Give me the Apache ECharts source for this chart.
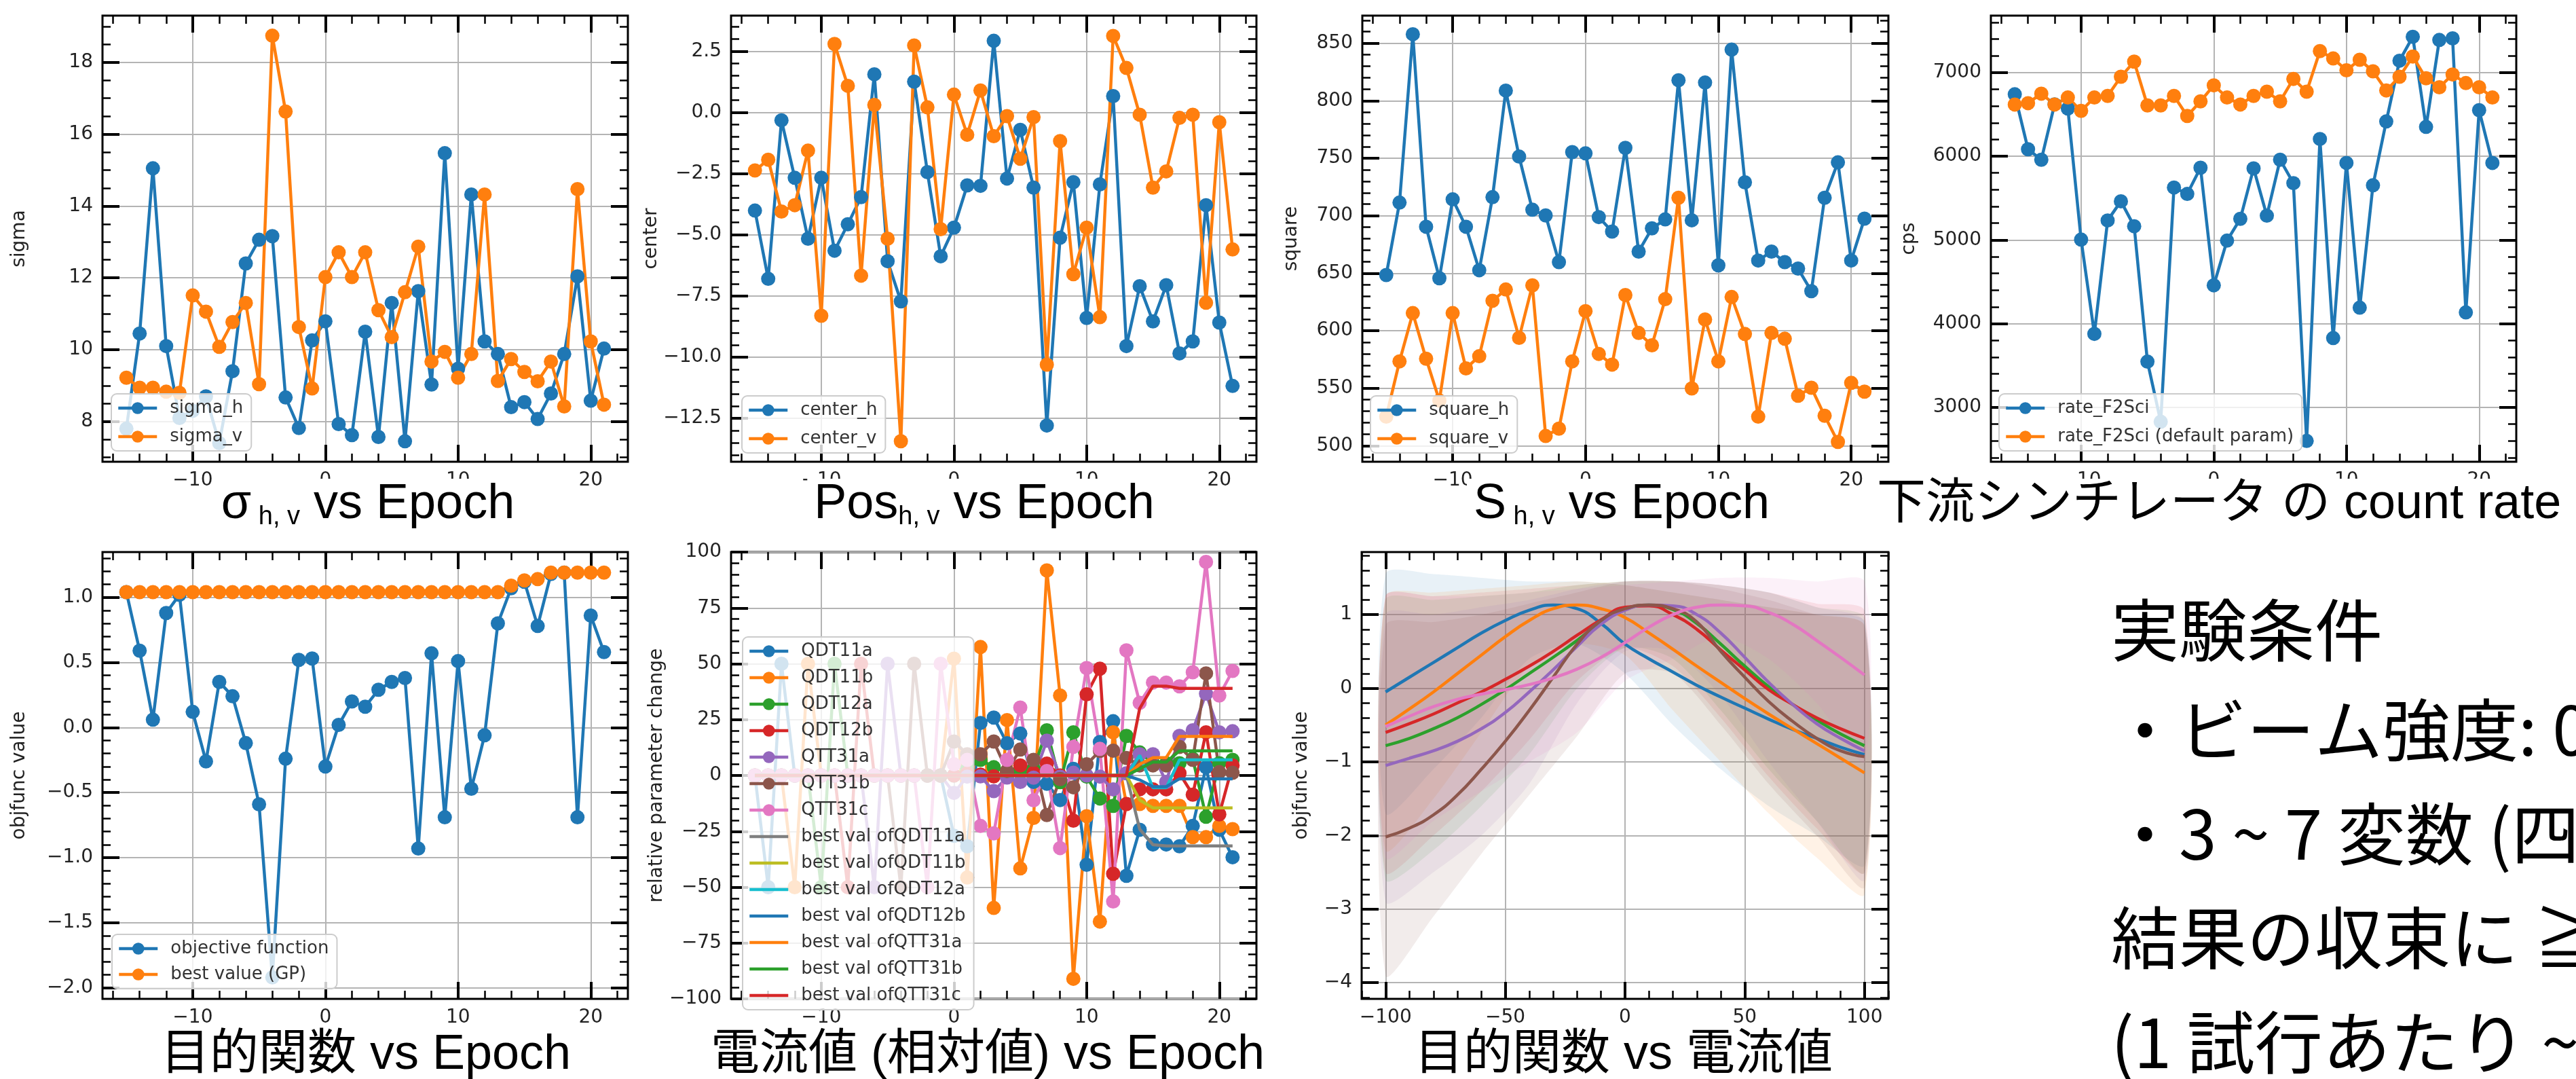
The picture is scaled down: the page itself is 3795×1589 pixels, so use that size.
<!DOCTYPE html>
<html><head><meta charset="utf-8">
<script src="https://cdn.jsdelivr.net/npm/echarts@6/dist/echarts.min.js"></script>
<style>html,body{margin:0;padding:0;background:#fff}#c{width:3795px;height:1589px}</style>
</head><body><div id="c"></div><script>
// ---------------- data ----------------
const epochs = [-15,-14,-13,-12,-11,-10,-9,-8,-7,-6,-5,-4,-3,-2,-1,0,1,2,3,4,5,6,7,8,9,10,11,12,13,14,15,16,17,18,19,20,21];

const sigmaH = [7.8,10.45,15.05,10.1,8.1,8.3,8.7,7.4,9.4,12.4,13.06,13.16,8.67,7.82,10.26,10.79,7.93,7.62,10.5,7.57,11.3,7.45,11.63,9.03,15.47,9.47,14.32,10.23,9.88,8.4,8.54,8.07,8.78,9.88,12.04,8.58,10.03];
const sigmaV = [9.22,8.94,8.94,8.83,8.8,11.51,11.06,10.08,10.77,11.3,9.04,18.74,16.63,10.63,8.92,12.02,12.71,12.02,12.71,11.1,10.35,11.6,12.87,9.67,9.94,9.22,9.88,14.32,9.13,9.74,9.38,9.12,9.67,8.42,14.47,10.23,8.47];

const centerH = [-4.01,-6.8,-0.32,-2.67,-5.16,-2.67,-5.65,-4.57,-3.46,1.56,-6.08,-7.72,1.26,-2.44,-5.88,-4.71,-2.98,-3.0,2.93,-2.7,-0.71,-3.07,-12.8,-5.12,-2.85,-8.4,-2.94,0.67,-9.55,-7.1,-8.54,-7.06,-9.85,-9.36,-3.79,-8.59,-11.18];
const centerV = [-2.37,-1.93,-4.05,-3.79,-1.56,-8.31,2.8,1.09,-6.67,0.31,-5.16,-13.44,2.74,0.21,-4.77,0.73,-0.91,0.9,-0.97,-0.15,-1.89,-0.19,-10.31,-1.17,-6.61,-4.71,-8.37,3.13,1.82,-0.09,-3.07,-2.41,-0.22,-0.09,-7.78,-0.4,-5.6];

const squareH = [648.4,711.4,857.8,690.4,645.6,714.2,690.4,652.6,716.1,808.8,751.4,705.2,700.2,659.6,755.3,754.2,698.8,686.2,759,668.8,689,696.8,817.8,696,815.8,656.8,844.4,729,661,668.8,659.6,654,634.4,715.6,746.4,661,697.4];
const squareV = [525.2,573.3,615.3,575.6,539.2,615.3,567.2,577.8,626,635.8,593.8,639.4,508.4,514.8,573.3,617,579.8,570.5,631,598,587.3,627.4,715.6,549.8,609.7,573.3,629.3,597.1,525.2,598,593,543.4,550.4,526,503.3,554.6,547];

const rateF2 = [6740,6084,5958,6620,6570,5004,3878,5233,5462,5164,3546,2828,5626,5550,5863,4458,4992,5252,5855,5290,5958,5679,2599,6206,3828,5920,4191,5653,6416,7141,7427,6351,7389,7408,4134,6550,5920];
const rateDefault = [6618,6634,6748,6618,6702,6542,6702,6721,6950,7130,6607,6607,6721,6481,6656,6847,6702,6618,6721,6771,6656,6924,6771,7256,7168,7027,7153,7015,6786,6950,7191,6931,6824,6977,6874,6824,6702];

const objective = [1.04,0.59,0.06,0.88,1.02,0.12,-0.26,0.35,0.24,-0.12,-0.59,-1.92,-0.24,0.52,0.53,-0.30,0.02,0.20,0.16,0.29,0.35,0.38,-0.93,0.57,-0.69,0.51,-0.47,-0.06,0.80,1.07,1.12,0.78,1.18,1.19,-0.69,0.86,0.58];
const bestGP = [1.04,1.04,1.04,1.04,1.04,1.04,1.04,1.04,1.04,1.04,1.04,1.04,1.04,1.04,1.04,1.04,1.04,1.04,1.04,1.04,1.04,1.04,1.04,1.04,1.04,1.04,1.04,1.04,1.04,1.09,1.13,1.14,1.19,1.19,1.19,1.19,1.19];

const qdt11a = [0,-50,50,0,0,0,0,0,0,0,0,0,0,0,0,-27,-31.7,23.5,25.9,14.4,18.8,-2.9,-3.7,-11,3,-40,15,24.3,-44.9,-24.3,-30.9,-30.9,-31.7,-22.6,3.7,-24.3,-36.6];
const qdt11b = [0,0,0,-50,50,0,0,0,0,0,0,0,0,0,0,52.3,-45.7,57.5,-59.3,24.8,-41.6,-19,91.8,35.8,-91,-18.2,-65.4,19.3,-12.8,-12.8,-13.6,-13.6,-13.6,-27.6,-27.6,-22.6,-24];
const qdt12a = [0,0,0,0,0,-50,50,0,0,0,0,0,0,0,0,0,3,7,3.7,2,2,3,20.2,-3,19.3,-0.5,-10.3,-13.6,17.7,10.3,5.5,5.5,5.5,7.5,-18.5,5.5,7];
const qdt12b = [0,0,0,0,0,0,0,-50,50,0,0,0,0,0,0,0,1,0.4,-0.4,1,4.5,1.2,5.3,0,-20.2,36.3,47.8,-44,-12.8,-6.2,-6.2,-6.2,1,-8.6,19.3,-17.4,4.5];
const qtt31a = [0,0,0,0,0,0,0,0,0,-50,50,0,0,0,0,-7.8,-0.5,-0.4,-7,-0.9,-2.9,-1,15.6,-0.5,1.2,0,-0.5,-6.2,1,9.5,9.5,-2.9,17.7,20.2,36.6,19.3,19.8];
const qtt31b = [0,0,0,0,0,0,0,0,0,0,0,-50,50,0,0,15.2,9.5,9.5,15.2,2,11.6,7,-17.7,-1.6,-5.3,5,11,11.1,7.8,4.5,4.5,4.5,12.8,7,45.7,1.5,1.2];
const qtt31c = [0,0,0,0,0,0,0,0,0,0,0,0,0,-50,50,5,7,-22.6,-25.9,7,30.4,-11.1,2,-32.5,12.8,48.1,11.9,-56.4,56,32.5,41.6,41.6,39.9,46.2,95.6,35.8,46.8];

const bestQdt11a = [0,0,0,0,0,0,0,0,0,0,0,0,0,0,0,0,0,0,0,0,0,0,0,0,0,0,0,0,0,-24,-31,-31.5,-31.5,-31.5,-31.5,-31.5,-31.5];
const bestQdt11b = [0,0,0,0,0,0,0,0,0,0,0,0,0,0,0,0,0,0,0,0,0,0,0,0,0,0,0,0,0,-11,-14.5,-14.5,-14.5,-14.5,-14.5,-14.5,-14.5];
const bestQdt12a = [0,0,0,0,0,0,0,0,0,0,0,0,0,0,0,0,0,0,0,0,0,0,0,0,0,0,0,0,0,9,-5.5,-5.5,7,7,7,7,7];
const bestQdt12b = [0,0,0,0,0,0,0,0,0,0,0,0,0,0,0,0,0,0,0,0,0,0,0,0,0,0,0,0,0,-2,-5,-5,-1.5,-1.5,-1.5,-1.5,-1.5];
const bestQtt31a = [0,0,0,0,0,0,0,0,0,0,0,0,0,0,0,0,0,0,0,0,0,0,0,0,0,0,0,0,0,5,8,8,17.5,17.5,17.5,17.5,17.5];
const bestQtt31b = [0,0,0,0,0,0,0,0,0,0,0,0,0,0,0,0,0,0,0,0,0,0,0,0,0,0,0,0,0,3,6,6,11,11,11,11,11];
const bestQtt31c = [0,0,0,0,0,0,0,0,0,0,0,0,0,0,0,0,0,0,0,0,0,0,0,0,0,0,0,0,0,30,40,40,39,39,39,39,39];

// GP model curves (objective vs current)
const gpX = [-100,-90,-80,-70,-60,-50,-40,-30,-20,-10,0,10,20,30,40,50,60,70,80,90,100];
const gpBlue   = [-0.05,0.15,0.35,0.55,0.75,0.92,1.06,1.13,1.08,0.88,0.6,0.4,0.22,0.04,-0.12,-0.27,-0.42,-0.56,-0.68,-0.8,-0.9];
const gpOrange = [-0.5,-0.28,-0.05,0.2,0.45,0.7,0.92,1.08,1.13,1.08,0.96,0.75,0.53,0.3,0.08,-0.14,-0.35,-0.55,-0.75,-0.95,-1.15];
const gpRed    = [-0.6,-0.48,-0.35,-0.2,-0.05,0.12,0.3,0.5,0.72,0.93,1.1,1.12,1.0,0.8,0.52,0.25,-0.02,-0.22,-0.4,-0.55,-0.68];
const gpGreen  = [-0.78,-0.68,-0.55,-0.4,-0.22,-0.02,0.2,0.42,0.65,0.9,1.07,1.13,1.07,0.88,0.6,0.3,0.02,-0.22,-0.43,-0.62,-0.78];
const gpPurple = [-1.05,-0.95,-0.85,-0.72,-0.55,-0.33,-0.05,0.25,0.57,0.87,1.06,1.13,1.12,1.0,0.75,0.42,0.08,-0.22,-0.48,-0.68,-0.85];
const gpBrown  = [-2.02,-1.9,-1.72,-1.45,-1.1,-0.72,-0.3,0.15,0.6,0.92,1.08,1.13,1.08,0.9,0.5,0.15,-0.18,-0.45,-0.68,-0.85,-0.93];
const gpPink   = [-0.52,-0.38,-0.25,-0.15,-0.08,-0.02,0.05,0.14,0.26,0.42,0.62,0.83,1.0,1.1,1.13,1.12,1.03,0.87,0.65,0.42,0.18];

const bandX = [-100,-80,-60,-40,-20,0,20,40,60,80,100];
const bandBlueUp   = [1.55,1.55,1.5,1.45,1.45,1.4,1.3,1.2,1.1,1.0,0.9];
const bandBlueLo   = [-1.7,-1.1,-0.4,0.4,0.6,0.2,-0.5,-1.1,-1.6,-2.0,-2.4];
const bandOrangeUp = [1.25,1.3,1.35,1.4,1.45,1.4,1.3,1.2,1.1,1.0,0.85];
const bandOrangeLo = [-2.2,-1.5,-0.6,0.3,0.6,0.45,-0.3,-1.0,-1.7,-2.3,-2.8];
const bandRedUp    = [1.25,1.25,1.3,1.35,1.4,1.45,1.45,1.4,1.3,1.15,1.05];
const bandRedLo    = [-2.5,-2.0,-1.4,-0.7,0.1,0.55,0.3,-0.4,-1.2,-1.9,-2.5];
const bandGreenUp  = [1.2,1.2,1.25,1.3,1.4,1.45,1.45,1.4,1.3,1.1,0.95];
const bandGreenLo  = [-2.6,-2.2,-1.6,-0.9,0.0,0.55,0.4,-0.3,-1.1,-1.8,-2.5];
const bandPurpleUp = [1.0,1.0,1.1,1.2,1.35,1.45,1.45,1.4,1.3,1.1,0.9];
const bandPurpleLo = [-2.9,-2.5,-2.0,-1.3,-0.2,0.5,0.5,-0.1,-1.0,-1.8,-2.6];
const bandBrownUp  = [0.85,0.9,1.0,1.15,1.3,1.45,1.45,1.35,1.2,1.0,0.85];
const bandBrownLo  = [-3.9,-3.1,-2.25,-1.45,-0.65,0.2,0.2,-0.5,-1.3,-2.0,-2.7];
const bandPinkUp   = [1.25,1.25,1.25,1.3,1.35,1.4,1.45,1.5,1.5,1.45,1.45];
const bandPinkLo   = [-2.3,-1.8,-1.4,-1.0,-0.6,0.1,0.4,0.7,0.4,-0.2,-1.0];

// tick labels
const epochTicks = [-10, 0, 10, 20];
const sigmaTicks = [8, 10, 12, 14, 16, 18];
const centerTicks = [-12.5, -10, -7.5, -5, -2.5, 0, 2.5];
const squareTicks = [500, 550, 600, 650, 700, 750, 800, 850];
const cpsTicks = [3000, 4000, 5000, 6000, 7000];
const objTicks = [-2, -1.5, -1, -0.5, 0, 0.5, 1];
const relTicks = [-100, -75, -50, -25, 0, 25, 50, 75, 100];
const gpYTicks = [-4, -3, -2, -1, 0, 1];
const currentTicks = [-100, -50, 0, 50, 100];

// ---------------- helpers ----------------
const C = {blue:'#1f77b4', orange:'#ff7f0e', green:'#2ca02c', red:'#d62728', purple:'#9467bd', brown:'#8c564b', pink:'#e377c2', gray:'#7f7f7f', olive:'#bcbd22', cyan:'#17becf'};
const FONT = 'DejaVu Sans';
const neg = s => s.replace('-', '\u2212');
const fInt = v => neg(String(Math.round(v)));
const f1 = v => neg(v.toFixed(1));
function minorTicks(a, b, s, skip) {
  const out = []; const n = Math.round((b - a) / s);
  for (let i = 0; i <= n; i++) { const v = +(a + i * s).toFixed(6); if (!skip.some(m => Math.abs(m - v) < 1e-9)) out.push(v); }
  return out;
}
const grids = [], xAxes = [], yAxes = [], series = [], legends = [];

function panel(p) {
  const gi = grids.length;
  grids.push({left: p.box[0], top: p.box[1], width: p.box[2], height: p.box[3], show: true,
    borderColor: '#000', borderWidth: 3, backgroundColor: 'rgba(0,0,0,0)', outerBoundsMode: 'none', containLabel: false});
  const base = (mn, mx, pos) => ({type: 'value', gridIndex: gi, min: mn, max: mx, position: pos,
    axisLine: {show: false, onZero: false}, splitLine: {show: false}, axisLabel: {show: false}});
  const maj = (vals) => ({show: true, inside: true, length: 25, customValues: vals, lineStyle: {color: '#000', width: 4}});
  const mnr = (vals) => ({show: true, inside: true, length: 12, customValues: vals, lineStyle: {color: '#000', width: 2.5}});
  const lbl = (vals, fmt) => ({show: true, customValues: vals, formatter: fmt, margin: 14, fontSize: 28, fontFamily: FONT, color: '#222'});
  const split = {show: true, lineStyle: {color: '#b4b4b4', width: 2}};
  const xi = xAxes.length, yi = yAxes.length;
  xAxes.push(Object.assign(base(p.xr[0], p.xr[1], 'bottom'), {axisTick: maj(p.xMaj), axisLabel: lbl(p.xMaj, p.xFmt), splitLine: split}));
  xAxes.push(Object.assign(base(p.xr[0], p.xr[1], 'bottom'), {axisTick: mnr(p.xMin)}));
  xAxes.push(Object.assign(base(p.xr[0], p.xr[1], 'top'), {axisTick: maj(p.xMaj)}));
  xAxes.push(Object.assign(base(p.xr[0], p.xr[1], 'top'), {axisTick: mnr(p.xMin)}));
  yAxes.push(Object.assign(base(p.yr[0], p.yr[1], 'left'), {axisTick: maj(p.yMaj), axisLabel: lbl(p.yMaj, p.yFmt), splitLine: split,
    name: p.yName, nameLocation: 'middle', nameRotate: 90, nameGap: p.nameGap,
    nameTextStyle: {fontSize: 28, fontFamily: FONT, color: '#222'}}));
  yAxes.push(Object.assign(base(p.yr[0], p.yr[1], 'left'), {axisTick: mnr(p.yMin)}));
  yAxes.push(Object.assign(base(p.yr[0], p.yr[1], 'right'), {axisTick: maj(p.yMaj)}));
  yAxes.push(Object.assign(base(p.yr[0], p.yr[1], 'right'), {axisTick: mnr(p.yMin)}));
  return {xi, yi};
}
function pts(xs, ys) { return xs.map((x, i) => [x, ys[i]]); }
function mline(ax, name, ys, color) {
  series.push({type: 'line', name, xAxisIndex: ax.xi, yAxisIndex: ax.yi, data: pts(epochs, ys),
    symbol: 'circle', symbolSize: 21, showSymbol: true, itemStyle: {color}, lineStyle: {color, width: 4.5},
    emphasis: {disabled: true}, z: 2});
}
function pline(ax, name, xs, ys, color, smooth) {
  series.push({type: 'line', name, xAxisIndex: ax.xi, yAxisIndex: ax.yi, data: pts(xs, ys),
    symbol: 'none', showSymbol: false, smooth: !!smooth, itemStyle: {color}, lineStyle: {color, width: 4.5},
    emphasis: {disabled: true}, z: 3});
}
function band(ax, up, lo, rgba) {
  series.push({type: 'custom', name: '_band', xAxisIndex: ax.xi, yAxisIndex: ax.yi, silent: true, clip: true, z: 1,
    data: [[0, 0]], encode: {x: 0, y: 1},
    renderItem: (params, api) => {
      const ps = [];
      for (let i = 0; i < bandX.length; i++) ps.push(api.coord([bandX[i], up[i]]));
      for (let i = bandX.length - 1; i >= 0; i--) ps.push(api.coord([bandX[i], lo[i]]));
      return {type: 'polygon', shape: {points: ps, smooth: 0.25}, style: {fill: rgba}};
    }});
}
const lineIcon = 'path://M0,0 L60,0 L60,4.5 L0,4.5 Z';
function legend(left, top, items, gap) {
  legends.push({show: true, left, top, orient: 'vertical', data: items, selectedMode: false,
    itemWidth: 57, itemHeight: 22, itemGap: gap, padding: [8, 12, 8, 8],
    lineStyle: {width: 4.5}, itemStyle: {borderWidth: 0},
    backgroundColor: 'rgba(255,255,255,0.8)', borderColor: '#cccccc', borderWidth: 2, borderRadius: 8,
    textStyle: {fontSize: 26, fontFamily: FONT, color: '#333', padding: [0, 0, 0, 14]}});
}

const EX = [-16.8, 22.8];
const eMin = minorTicks(-16, 22, 2, epochTicks);

// ---------------- panels ----------------
const a1 = panel({box: [151, 23, 774, 657], xr: EX, yr: [6.88, 19.3], xMaj: epochTicks, xMin: eMin,
  yMaj: sigmaTicks, yMin: minorTicks(7, 19, 0.5, sigmaTicks), xFmt: fInt, yFmt: fInt, yName: 'sigma', nameGap: 108});
mline(a1, 'sigma_h', sigmaH, C.blue); mline(a1, 'sigma_v', sigmaV, C.orange);
legend(164, 580, ['sigma_h', 'sigma_v'], 16);

const a2 = panel({box: [1077, 23, 774, 657], xr: EX, yr: [-14.28, 3.96], xMaj: epochTicks, xMin: eMin,
  yMaj: centerTicks, yMin: minorTicks(-14, 3.5, 0.5, centerTicks), xFmt: fInt, yFmt: f1, yName: 'center', nameGap: 56});
mline(a2, 'center_h', centerH, C.blue); mline(a2, 'center_v', centerV, C.orange);
legend(1093, 583, ['center_h', 'center_v'], 16);

const a3 = panel({box: [2007, 23, 775, 657], xr: EX, yr: [486, 874], xMaj: epochTicks, xMin: eMin,
  yMaj: squareTicks, yMin: minorTicks(490, 870, 10, squareTicks), xFmt: fInt, yFmt: fInt, yName: 'square', nameGap: 90});
mline(a3, 'square_h', squareH, C.blue); mline(a3, 'square_v', squareV, C.orange);
legend(2019, 583, ['square_h', 'square_v'], 16);

const a4 = panel({box: [2933, 23, 774, 657], xr: EX, yr: [2350, 7680], xMaj: epochTicks, xMin: eMin,
  yMaj: cpsTicks, yMin: minorTicks(2400, 7600, 200, cpsTicks), xFmt: fInt, yFmt: fInt, yName: 'cps', nameGap: 106});
mline(a4, 'rate_F2Sci', rateF2, C.blue); mline(a4, 'rate_F2Sci (default param)', rateDefault, C.orange);
legend(2945, 580, ['rate_F2Sci', 'rate_F2Sci (default param)'], 16);

const a5 = panel({box: [151, 813, 774, 658], xr: EX, yr: [-2.085, 1.348], xMaj: epochTicks, xMin: eMin,
  yMaj: objTicks, yMin: minorTicks(-2.0, 1.3, 0.1, objTicks), xFmt: fInt, yFmt: f1, yName: 'objfunc value', nameGap: 108});
mline(a5, 'objective function', objective, C.blue); mline(a5, 'best value (GP)', bestGP, C.orange);
legend(165, 1376, ['objective function', 'best value (GP)'], 12);

const a6 = panel({box: [1077, 813, 774, 658], xr: EX, yr: [-100, 100], xMaj: epochTicks, xMin: eMin,
  yMaj: relTicks, yMin: minorTicks(-95, 95, 5, relTicks), xFmt: fInt, yFmt: fInt, yName: 'relative parameter change', nameGap: 54});
mline(a6, 'QDT11a', qdt11a, C.blue); mline(a6, 'QDT11b', qdt11b, C.orange); mline(a6, 'QDT12a', qdt12a, C.green);
mline(a6, 'QDT12b', qdt12b, C.red); mline(a6, 'QTT31a', qtt31a, C.purple); mline(a6, 'QTT31b', qtt31b, C.brown);
mline(a6, 'QTT31c', qtt31c, C.pink);
pline(a6, 'best val ofQDT11a', epochs, bestQdt11a, C.gray);
pline(a6, 'best val ofQDT11b', epochs, bestQdt11b, C.olive);
pline(a6, 'best val ofQDT12a', epochs, bestQdt12a, C.cyan);
pline(a6, 'best val ofQDT12b', epochs, bestQdt12b, C.blue);
pline(a6, 'best val ofQTT31a', epochs, bestQtt31a, C.orange);
pline(a6, 'best val ofQTT31b', epochs, bestQtt31b, C.green);
pline(a6, 'best val ofQTT31c', epochs, bestQtt31c, C.red);
const bestNames = ['best val ofQDT11a','best val ofQDT11b','best val ofQDT12a','best val ofQDT12b','best val ofQTT31a','best val ofQTT31b','best val ofQTT31c'];
legend(1094, 938, ['QDT11a','QDT11b','QDT12a','QDT12b','QTT31a','QTT31b','QTT31c']
  .concat(bestNames.map(n => ({name: n, icon: lineIcon}))), 13);

const a7 = panel({box: [2006, 813, 776, 658], xr: [-110, 110], yr: [-4.22, 1.85], xMaj: currentTicks, xMin: minorTicks(-110, 110, 10, currentTicks),
  yMaj: gpYTicks, yMin: minorTicks(-4.2, 1.8, 0.2, gpYTicks), xFmt: fInt, yFmt: fInt, yName: 'objfunc value', nameGap: 74});
band(a7, bandBlueUp, bandBlueLo, 'rgba(31,119,180,0.1)');
band(a7, bandOrangeUp, bandOrangeLo, 'rgba(255,127,14,0.1)');
band(a7, bandGreenUp, bandGreenLo, 'rgba(44,160,44,0.1)');
band(a7, bandRedUp, bandRedLo, 'rgba(214,39,40,0.1)');
band(a7, bandPurpleUp, bandPurpleLo, 'rgba(148,103,189,0.1)');
band(a7, bandBrownUp, bandBrownLo, 'rgba(140,86,75,0.11)');
band(a7, bandPinkUp, bandPinkLo, 'rgba(227,119,194,0.1)');
pline(a7, 'GP QDT11a', gpX, gpBlue, C.blue, true);
pline(a7, 'GP QDT11b', gpX, gpOrange, C.orange, true);
pline(a7, 'GP QDT12a', gpX, gpGreen, C.green, true);
pline(a7, 'GP QDT12b', gpX, gpRed, C.red, true);
pline(a7, 'GP QTT31a', gpX, gpPurple, C.purple, true);
pline(a7, 'GP QTT31b', gpX, gpBrown, C.brown, true);
pline(a7, 'GP QTT31c', gpX, gpPink, C.pink, true);

// ---------------- texts ----------------
const TF = '"Liberation Sans", "Noto Sans CJK JP", sans-serif';
const sub = {s: {fontSize: 38, fontFamily: TF, verticalAlign: 'bottom'}};
function title(x, y, text, align) {
  return {type: 'text', x, y, z: 100, style: {text, rich: sub, fill: '#000', font: '72px ' + TF,
    align: align || 'center', verticalAlign: 'middle', backgroundColor: '#fff', padding: [0, 10], lineHeight: 76}};
}
const JF = '"Noto Sans CJK JP", sans-serif';
function note(y, text) {
  return {type: 'text', x: 3110, y, z: 100, style: {text, fill: '#000', font: '100px ' + JF, verticalAlign: 'middle'}};
}
const gfx = [
  title(542, 743, '\u03c3{s| h, v} vs Epoch'),
  title(1450, 743, 'Pos{s|h, v} vs Epoch'),
  title(2389, 743, 'S{s| h, v} vs Epoch'),
  title(2755, 743, '下流シンチレータ の count rate', 'left'),
  title(539, 1554, '目的関数 vs Epoch'),
  title(1455, 1554, '電流値 (相対値) vs Epoch'),
  title(2392, 1554, '目的関数 vs 電流値'),
  note(928, '実験条件'),
  note(1075, '・ビーム強度: 0'),
  note(1228, '・3 ~ 7 変数 (四'),
  note(1381, '結果の収束に ≧'),
  note(1535, '(1 試行あたり ~')
];

const chart = echarts.init(document.getElementById('c'), null, {renderer: 'canvas'});
chart.setOption({
  animation: false, backgroundColor: '#fff', textStyle: {fontFamily: FONT},
  grid: grids, xAxis: xAxes, yAxis: yAxes, legend: legends, series,
  graphic: {elements: gfx}
});
</script></body></html>
